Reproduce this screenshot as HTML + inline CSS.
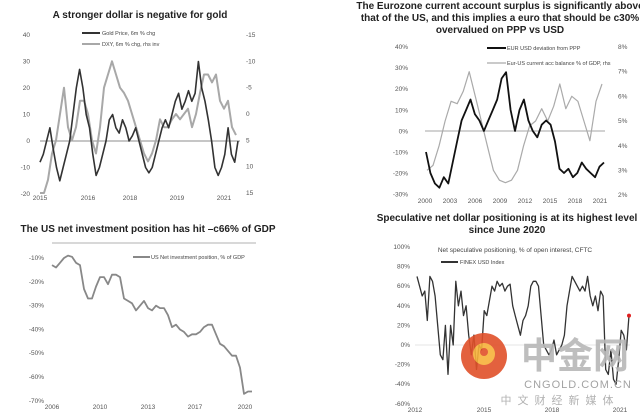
<!DOCTYPE html>
<html><head><meta charset="utf-8"><style>
body{margin:0;background:#fff;width:640px;height:416px;overflow:hidden}
svg{display:block;font-family:"Liberation Sans","Noto Sans CJK SC",sans-serif}
.t{font-weight:bold;font-size:10px;fill:#222;text-anchor:middle}
.k{font-size:6.5px;fill:#555}
.l{font-size:5.5px;fill:#444}
</style></head><body>
<svg id="s" width="640" height="416">
<text class="t" x="140" y="18">A stronger dollar is negative for gold</text>
<text class="t" x="500" y="9">The Eurozone current account surplus is significantly above</text>
<text class="t" x="500" y="21">that of the US, and this implies a euro that should be c30%</text>
<text class="t" x="500" y="33">overvalued on PPP vs USD</text>
<text class="t" x="148" y="232">The US net investment position has hit –c66% of GDP</text>
<text class="t" x="507" y="221">Speculative net dollar positioning is at its highest level</text>
<text class="t" x="507" y="233">since June 2020</text>
<text x="515" y="252" style="font-size:6.5px;fill:#444" text-anchor="middle">Net speculative positioning, % of open interest, CFTC</text>
<g id="g"></g>
<g opacity="0.9">
<circle cx="484" cy="356" r="23" fill="#e0502a"/>
<circle cx="484" cy="354" r="11" fill="#f7b23a"/>
<circle cx="484" cy="352" r="4" fill="#e0502a"/>
<text x="575" y="368" style="font-size:36px;font-weight:bold;fill:#b8b8b8" text-anchor="middle">中金网</text>
<text x="578" y="388" style="font-size:11px;fill:#999;letter-spacing:1px" text-anchor="middle">CNGOLD.COM.CN</text>
<text x="560" y="404" style="font-size:11px;fill:#aaa;letter-spacing:6px" text-anchor="middle">中文财经新媒体</text>
</g>
</svg>
<script>
const goldVals=[-8,-5,0,5,-3,-10,-15,-10,-5,0,10,20,27,20,10,5,-5,-13,-10,-5,0,8,10,5,3,8,5,0,2,5,0,-5,-10,-12,-10,-5,0,5,8,5,10,15,18,12,15,19,15,18,30,20,15,8,0,-10,-13,-10,-5,5,-5,-8,0];
const dxyVals=[15,15,12.5,7.5,5,0,-5,2.5,5,2.5,-2.5,-2.5,0,5,7.5,2.5,-5,-7.5,-10,-7.5,-5,-4,-2.5,0,2.5,5,7.5,9,7.5,5,1,2.5,2.5,1,0,1,0,-1,2.5,0,-4,-7.5,-7.5,-6,-7.5,-2.5,-1,-2.5,2.5,4];
const goldTicksL=[40,30,20,10,0,-10,-20];
const goldTicksR=[-15,-10,-5,0,5,10,15];
const goldYears=['2015','2016','2018','2019','2021'];
const eurVals=[-10,-20,-25,-27,-22,-25,-15,-5,5,10,15,8,5,0,5,10,15,25,28,10,0,10,15,5,0,-3,3,5,3,-5,-18,-20,-18,-22,-20,-15,-18,-20,-22,-17,-15];
const caVals=[3.0,3.2,4.0,5.0,5.8,5.7,6.2,7.0,6.0,5.0,4.0,3.0,2.6,2.5,2.6,3.0,4.0,4.8,5.0,5.5,5.0,5.6,6.5,5.5,6.0,5.8,5.0,4.2,5.8,6.5];
const eurTicksL=['40%','30%','20%','10%','0%','-10%','-20%','-30%'];
const eurTicksR=['8%','7%','6%','5%','4%','3%','2%'];
const eurYears=['2000','2003','2006','2009','2012','2015','2018','2021'];
const niipVals=[-13,-14,-12,-10,-9,-9.5,-12,-13,-23,-27,-27,-22,-18,-18,-21,-17,-17,-18,-27,-28,-29,-32,-30,-28,-31,-32,-30,-31,-31,-34,-39,-38,-40,-41,-43,-42,-42,-41,-39,-38,-38,-42,-46,-47,-49,-51,-51,-56,-67,-66,-66];
const niipTicks=['-10%','-20%','-30%','-40%','-50%','-60%','-70%'];
const niipYears=['2006','2010','2013','2017','2020'];
const finexVals=[70,60,50,55,25,70,65,50,20,-10,-15,20,-30,20,0,65,40,55,30,40,10,-10,10,-25,0,-5,35,30,45,60,55,65,60,63,55,60,62,40,30,20,10,25,30,40,60,65,65,60,30,0,-5,-10,-5,5,-10,-5,0,10,40,55,70,65,60,55,60,55,70,50,40,50,35,55,50,-25,-30,-5,-35,-40,-15,15,10,-5,30];
const finexTicks=['100%','80%','60%','40%','20%','0%','-20%','-40%','-60%'];
const finexYears=['2012','2015','2018','2021'];

const G=document.getElementById('g');const NS='http://www.w3.org/2000/svg';
function el(t,a,txt){const e=document.createElementNS(NS,t);for(const k in a)e.setAttribute(k,a[k]);if(txt!==undefined)e.textContent=txt;G.appendChild(e);return e;}
function lin(d0,d1,r0,r1){return v=>r0+(v-d0)/(d1-d0)*(r1-r0);}
function line(vals,xs,ys,col,w,name){const p=vals.map((v,i)=>(i?'L':'M')+xs(i).toFixed(1)+','+ys(v).toFixed(1)).join('');const e=el('path',{d:p,fill:'none',stroke:col,'stroke-width':w,'stroke-linejoin':'round'});return e;}
function lbl(x,y,s,anchor,name){const e=el('text',{x:x,y:y,class:'k','text-anchor':anchor},s);}

// Panel 1
{const yL=lin(0,40,141,35),yR=lin(-15,15,35,193);
goldTicksL.forEach(v=>lbl(30,yL(v)+2,String(v),'end','gold-y-tick'));
goldTicksR.forEach(v=>lbl(246,yR(v)+2,String(v),'start','gold-y2-tick'));
const yx=[40,88,130,177,224];goldYears.forEach((s,i)=>lbl(yx[i],200,s,'middle','gold-x-tick'));
const z=el('line',{x1:40,x2:240,y1:yL(0),y2:yL(0),stroke:'#666','stroke-width':0.7});
line(dxyVals,lin(0,dxyVals.length-1,40,236),yR,'#a8a8a8',2,'dxy-line');
line(goldVals,lin(0,goldVals.length-1,40,238),yL,'#333',1.6,'gold-line');
el('line',{x1:82,x2:100,y1:33,y2:33,stroke:'#333','stroke-width':2});
const a=el('text',{x:102,y:35,class:'l'},'Gold Price, 6m % chg');
el('line',{x1:82,x2:100,y1:44,y2:44,stroke:'#a8a8a8','stroke-width':2});
const b=el('text',{x:102,y:46,class:'l'},'DXY, 6m % chg, rhs inv');}

// Panel 2
{const yL=lin(0,40,131,47),yR=lin(2,8,195,47);
eurTicksL.forEach((s,i)=>lbl(408,47+i*21.1+2,s,'end','eur-y-tick'));
eurTicksR.forEach((s,i)=>lbl(618,47+i*24.7+2,s,'start','eur-y2-tick'));
eurYears.forEach((s,i)=>lbl(425+i*25,203,s,'middle','eur-x-tick'));
const z=el('line',{x1:425,x2:605,y1:yL(0),y2:yL(0),stroke:'#888','stroke-width':0.7});
line(caVals,lin(0,caVals.length-1,427,602),yR,'#aaa',1.2,'ca-line');
line(eurVals,lin(0,eurVals.length-1,426,604),yL,'#111',1.8,'eurusd-line');
el('line',{x1:487,x2:506,y1:48,y2:48,stroke:'#111','stroke-width':2});
const a=el('text',{x:507,y:50,class:'l'},'EUR USD deviation from PPP');
el('line',{x1:487,x2:506,y1:63,y2:63,stroke:'#aaa','stroke-width':1.2});
const b=el('text',{x:507,y:65,class:'l'},'Eur-US current acc balance % of GDP, rhs');}

// Panel 3
{const y=lin(-10,-70,258,401);
el('line',{x1:52,x2:256,y1:243,y2:243,stroke:'#999','stroke-width':0.7});
niipTicks.forEach((s,i)=>lbl(44,258+i*23.8+2,s,'end','niip-y-tick'));
const yx=[52,100,148,195,245];niipYears.forEach((s,i)=>lbl(yx[i],409,s,'middle','niip-x-tick'));
line(niipVals,lin(0,niipVals.length-1,52,252),y,'#888',1.8,'niip-line');
el('line',{x1:133,x2:150,y1:257,y2:257,stroke:'#888','stroke-width':2});
const a=el('text',{x:151,y:259,class:'l'},'US Net investment position, % of GDP');}

// Panel 4
{const y=lin(0,100,345,247);
finexTicks.forEach((s,i)=>lbl(410,247+i*19.6+2,s,'end','finex-y-tick'));
const yx=[415,484,552,620];finexYears.forEach((s,i)=>lbl(yx[i],412,s,'middle','finex-x-tick'));
const z=el('line',{x1:415,x2:630,y1:y(0),y2:y(0),stroke:'#ccc','stroke-width':0.6});
const xs=lin(0,finexVals.length-1,417,629);
line(finexVals,xs,y,'#333',1.3,'finex-line');
const d=el('circle',{cx:xs(finexVals.length-1),cy:y(finexVals[finexVals.length-1]),r:2,fill:'#e02020'});
el('line',{x1:441,x2:458,y1:262,y2:262,stroke:'#333','stroke-width':2});
const a=el('text',{x:460,y:264,class:'l'},'FINEX USD Index');}
</script>
</body></html>
